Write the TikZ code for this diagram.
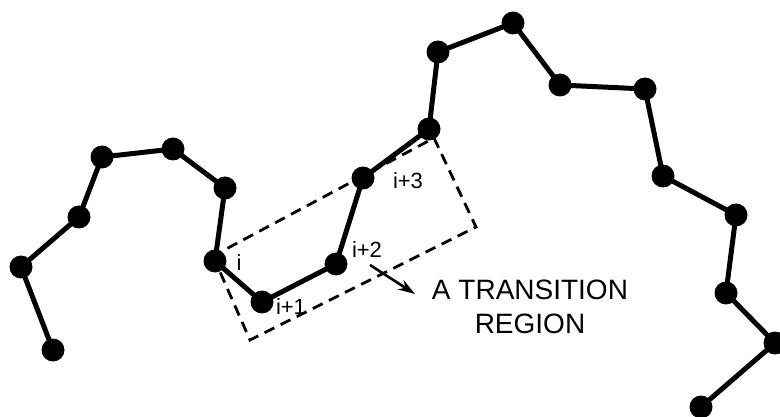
\documentclass[tikz,border=0pt]{standalone}
\usepackage{fontspec}
\setmainfont{Liberation Sans}
\usetikzlibrary{arrows.meta}
\begin{document}
\begin{tikzpicture}[x=1pt,y=-1pt,
  bead/.style={circle,fill=black,inner sep=0pt,minimum size=23pt},
  chain/.style={line width=5pt},
  region/.style={line width=2.8pt,dash pattern=on 11pt off 7pt},
  lbl/.style={font=\fontsize{22}{24}\selectfont,inner sep=0pt},
  big/.style={font=\fontsize{28}{34}\selectfont,inner sep=0pt,align=center}]
\useasboundingbox (0,0) rectangle (780,417);
% transition region
\coordinate (tl) at (213,256);
\coordinate (bl) at (250,340);
\coordinate (br) at (476,227);
\coordinate (tr) at (434,138);
\draw[region] (tl) -- (bl) -- (br) -- (tr) -- cycle;
% beads
\node[bead] (n1) at (53,350) {};
\node[bead] (n2) at (21,267) {};
\node[bead] (n3) at (79,217) {};
\node[bead] (n4) at (102,157) {};
\node[bead] (n5) at (173,149) {};
\node[bead] (n6) at (225,188) {};
\node[bead] (n7) at (215,261) {};
\node[bead] (n8) at (262,302) {};
\node[bead] (n9) at (336,264) {};
\node[bead] (n10) at (363,178) {};
\node[bead] (n11) at (429,129) {};
\node[bead] (n12) at (438,52) {};
\node[bead] (n13) at (513,23) {};
\node[bead] (n14) at (560,85) {};
\node[bead] (n15) at (645,89) {};
\node[bead] (n16) at (663,176) {};
\node[bead] (n17) at (736,215) {};
\node[bead] (n18) at (726,293) {};
\node[bead] (n19) at (775,343) {};
\node[bead] (n20) at (701,407) {};
\draw[chain] (n1.center) -- (n2.center) -- (n3.center) -- (n4.center) -- (n5.center)
  -- (n6.center) -- (n7.center) -- (n8.center) -- (n9.center) -- (n10.center)
  -- (n11.center) -- (n12.center) -- (n13.center) -- (n14.center) -- (n15.center)
  -- (n16.center) -- (n17.center) -- (n18.center) -- (n19.center) -- (n20.center);
% labels
\node[lbl] (li) at (239,263) {i};
\node[lbl] (li1) at (291,307) {i+1};
\node[lbl] (li2) at (367,250) {i+2};
\node[lbl] (li3) at (408,181) {i+3};
% annotation
\node[big] (txt) at (530,307) {A TRANSITION\\REGION};
\coordinate (as) at (370,265);
\coordinate (ae) at (415,294);
\draw[line width=2.6pt,-{Stealth[length=17pt,width=11pt]}] (as) -- (ae);
\end{tikzpicture}
\end{document}
